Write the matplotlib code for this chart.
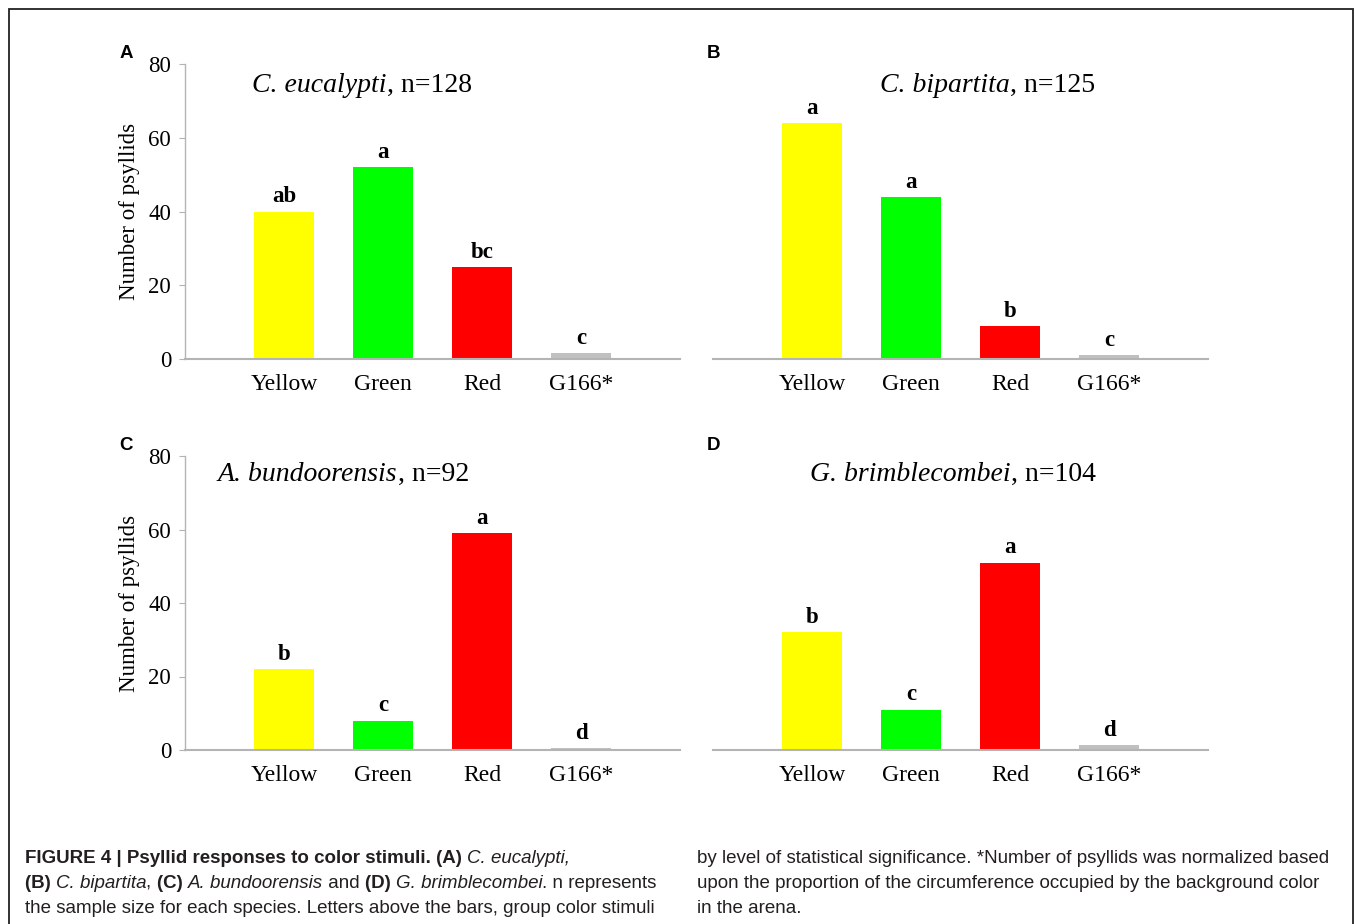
import matplotlib
matplotlib.use("Agg")
import matplotlib.pyplot as plt
from matplotlib.patches import Rectangle

plt.rcParams["font.family"] = "Liberation Serif"

W, H = 1355, 924

categories = ["Yellow", "Green", "Red", "G166*"]
bar_colors = ["#ffff00", "#00ff00", "#ff0000", "#c0c0c0"]

panel_tags = ["A", "B", "C", "D"]
species = ["C. eucalypti", "C. bipartita", "A. bundoorensis", "G. brimblecombei"]
sample_n = [128, 125, 92, 104]

counts_a = [40, 52, 25, 1.6]
counts_b = [64, 44, 9, 1.1]
counts_c = [22, 8, 59, 0.5]
counts_d = [32, 11, 51, 1.4]
counts = [counts_a, counts_b, counts_c, counts_d]

letters_a = ["ab", "a", "bc", "c"]
letters_b = ["a", "a", "b", "c"]
letters_c = ["b", "c", "a", "d"]
letters_d = ["b", "c", "a", "d"]
letters = [letters_a, letters_b, letters_c, letters_d]

yticks = [0, 20, 40, 60, 80]

# layout (pixels of the 1355x924 figure)
ax_left = [185, 713, 185, 713]
ax_top = [64, 64, 456, 456]
ax_bottom = [359, 359, 750, 750]
ax_w = 495
tag_x = [126, 714, 126, 714]
title_left = [252, 880, 218, 810]
title_base = [92, 92, 481, 481]
axis_gray = "#b4b4b4"

fig = plt.figure(figsize=(W / 100, H / 100), dpi=100)
renderer = fig.canvas.get_renderer()


def run_width(s, size, family, weight, style):
    kw = dict(fontsize=size, family=family, weight=weight, style=style)
    t1 = fig.text(0, 0, "|" + s + "|", **kw)
    t2 = fig.text(0, 0, "||", **kw)
    w = t1.get_window_extent(renderer).width - t2.get_window_extent(renderer).width
    t1.remove()
    t2.remove()
    return w


def draw_line(x_px, y_px, runs, size, family, color):
    x = x_px
    for s, weight, style in runs:
        fig.text(x / W, 1 - y_px / H, s, fontsize=size, weight=weight,
                 style=style, family=family, va="baseline", color=color)
        x += run_width(s, size, family, weight, style)


B, N, I = ("bold", "normal"), ("normal", "normal"), ("normal", "italic")

for i in range(4):
    ax = fig.add_axes([ax_left[i] / W, 1 - ax_bottom[i] / H,
                       ax_w / W, (ax_bottom[i] - ax_top[i]) / H])
    x = list(range(len(categories)))
    ax.bar(x, counts[i], width=0.6, color=bar_colors, zorder=2)
    ax.set_xlim(-1, 4)
    ax.set_ylim(0, 80)
    ax.set_xticks(x)
    ax.set_xticklabels(categories, fontsize=17)
    ax.tick_params(axis="x", length=0, pad=11)
    for s in ["top", "right"]:
        ax.spines[s].set_visible(False)
    ax.spines["bottom"].set_color(axis_gray)
    ax.spines["bottom"].set_linewidth(1.5)
    if i % 2 == 0:
        ax.spines["left"].set_color(axis_gray)
        ax.spines["left"].set_linewidth(1.0)
        ax.set_yticks(yticks)
        ax.tick_params(axis="y", labelsize=16.5, length=4, color=axis_gray, pad=6)
        ax.set_ylabel("Number of psyllids", fontsize=16.5)
        ax.yaxis.set_label_coords(-0.09, 0.5)
    else:
        ax.spines["left"].set_visible(False)
        ax.set_yticks([])
    for xi, v, lab in zip(x, counts[i], letters[i]):
        ax.annotate(lab, (xi, v), xytext=(0, 3), textcoords="offset points",
                    ha="center", va="bottom", fontsize=16.5, fontweight="bold")
    draw_line(title_left[i], title_base[i],
              [(species[i],) + I, (", n=%d" % sample_n[i],) + N],
              20, "Liberation Serif", "black")
    fig.text(tag_x[i] / W, 1 - (ax_top[i] - 11) / H, panel_tags[i],
             fontsize=13.5, fontweight="bold", family="Liberation Sans",
             ha="center", va="center")

# frame around the figure
fig.add_artist(Rectangle((8.5 / W, -0.05), (1352.5 - 8.5) / W, 1.05 - 9 / H,
                         transform=fig.transFigure, fill=False,
                         edgecolor="#222222", linewidth=1.3))

# caption
cap_size = 13.5
left_lines = [
    [("FIGURE 4 | Psyllid responses to color stimuli. (A) ",) + B,
     ("C. eucalypti,",) + I],
    [("(B) ",) + B, ("C. bipartita",) + I, (", ",) + N, ("(C) ",) + B,
     ("A. bundoorensis",) + I, (" and ",) + N, ("(D) ",) + B,
     ("G. brimblecombei",) + I, (". n represents",) + N],
    [("the sample size for each species. Letters above the bars, group color stimuli",) + N],
]
right_lines = [
    [("by level of statistical significance. *Number of psyllids was normalized based",) + N],
    [("upon the proportion of the circumference occupied by the background color",) + N],
    [("in the arena.",) + N],
]
for k, runs in enumerate(left_lines):
    draw_line(25, 863 + 25 * k, runs, cap_size, "Liberation Sans", "#231f20")
for k, runs in enumerate(right_lines):
    draw_line(697, 863 + 25 * k, runs, cap_size, "Liberation Sans", "#231f20")

fig.savefig("out.png", dpi=100)
